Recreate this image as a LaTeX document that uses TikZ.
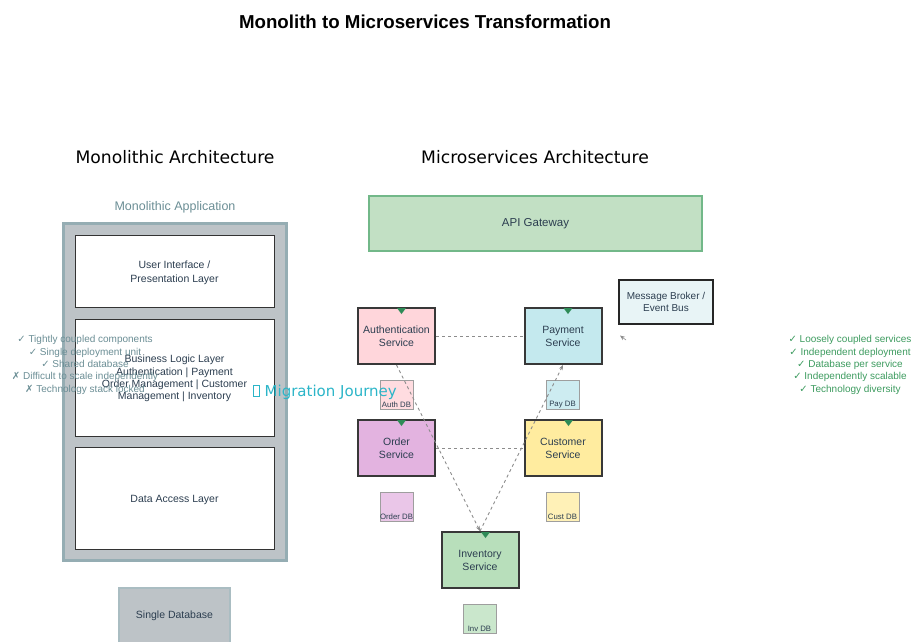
\documentclass[tikz,border=0pt]{standalone}
\usepackage{fontspec}
\setmainfont{Liberation Sans}
\newfontfamily\headfont{DejaVu Sans}
\newfontfamily\symfont{DejaVu Sans}
\usetikzlibrary{arrows.meta,calc}

\definecolor{ink}{HTML}{2C3E50}
\definecolor{monofill}{HTML}{BDC3C7}
\definecolor{monoedge}{HTML}{95ADB3}
\definecolor{monotext}{HTML}{6B8E95}
\definecolor{gwfill}{HTML}{C2E0C4}
\definecolor{gwedge}{HTML}{72B889}
\definecolor{authfill}{HTML}{FFD6DB}
\definecolor{payfill}{HTML}{C4E9EE}
\definecolor{orderfill}{HTML}{E3B3E0}
\definecolor{custfill}{HTML}{FFEC9F}
\definecolor{invfill}{HTML}{B8DFBB}
\definecolor{brokerfill}{HTML}{E8F4F6}
\definecolor{prosgreen}{HTML}{3D9B5F}
\definecolor{migcyan}{HTML}{2BB5C8}
\definecolor{tipgreen}{HTML}{2E8B57}

\newcommand\fs[1]{\fontsize{#1}{\fpeval{#1*1.2}}\selectfont}
% green arrow tip sitting just under the top edge of a service box
\newcommand\gwtip[2]{\fill[tipgreen] ($(#1.north)+(#2,1)$) -- ++(9,0) -- ++(-4.5,6) -- cycle;}

\tikzset{
  service/.style={draw=black!78, line width=2pt, minimum width=77pt, minimum height=56pt,
    inner sep=0pt, align=center, text=ink, font=\fs{10.5}\linespread{1.03}\selectfont},
  dbbox/.style={draw=black!38, line width=1pt, minimum width=33pt, minimum height=29pt, inner sep=0pt},
  dblabel/.style={anchor=south, inner sep=1.5pt, text=ink, font=\fs{7.8}},
  layer/.style={draw=black!80, fill=white, line width=0.8pt, minimum width=199pt,
    inner sep=0pt, align=center, text=ink, font=\fs{10.5}\linespread{1.08}\selectfont},
  layertext/.style={align=center, text=ink, inner sep=0pt},
  link/.style={draw=black!45, line width=0.9pt, dash pattern=on 3pt off 3pt},
  tip/.style={-{Stealth[length=5pt,width=4pt]}},
  heading/.style={font=\headfont\fs{17.2}, text=black},
  checks/.style={align=center, font=\fs{10}\linespread{1.03}\selectfont},
}

\begin{document}
\begin{tikzpicture}[x=1pt,y=-1pt]
\useasboundingbox (0,0) rectangle (911,641);

% titles
\node[font=\bfseries\fs{18.7}] (title) at (425,22) {Monolith to Microservices Transformation};
\node[heading] (monohead) at (175,157) {Monolithic Architecture};
\node[heading] (microhead) at (535,157) {Microservices Architecture};

% monolith
\node[text=monotext, font=\fs{12.5}] (monoapp) at (175,207) {Monolithic Application};
\node[draw=monoedge, fill=monofill, line width=3pt, minimum width=223pt, minimum height=337pt,
  inner sep=0pt] (mono) at (174.5,391.5) {};
\node[layer, minimum height=72pt] (ui) at (174.5,271) {};
\node[layer, minimum height=117pt] (logic) at (174.5,377.5) {};
\node[layer, minimum height=102pt] (data) at (174.5,498) {};
\node[layertext, font=\fs{10.5}\linespread{1.08}\selectfont] (uitext) at ([yshift=-1.5pt]ui.center)
  {User Interface /\\Presentation Layer};
\node[layertext, font=\fs{10.5}\linespread{0.98}\selectfont] (logictext) at ([yshift=-1pt]logic.center)
  {Business Logic Layer\\Authentication | Payment\\Order Management | Customer\\Management | Inventory};
\node[layertext, font=\fs{10.5}] (datatext) at ([yshift=-1.5pt]data.center) {Data Access Layer};
\node[draw=monoedge!80, fill=monofill, line width=1.5pt, minimum width=111pt, minimum height=56pt,
  inner sep=0pt, text=ink, font=\fs{10.5}] (singledb) at (174.5,616) {Single Database};

% drawbacks of the monolith
\node[checks, text=monotext] (cons) at (85,365)
  {{\symfont ✓} Tightly coupled components\\{\symfont ✓} Single deployment unit\\{\symfont ✓} Shared database\\
   {\symfont ✗} Difficult to scale independently\\{\symfont ✗} Technology stack locked};

% microservices
\node[draw=gwedge, fill=gwfill, line width=2pt, minimum width=333pt, minimum height=55pt,
  inner sep=0pt, text=ink, font=\fs{11.5}] (gateway) at (535.5,223.5) {API Gateway};
\node[draw=black!85, fill=brokerfill, line width=2pt, minimum width=94pt, minimum height=44pt,
  inner sep=0pt, align=center, text=ink, font=\fs{10}\linespread{1.0}\selectfont] (broker) at (666,302)
  {Message Broker /\\Event Bus};

\node[service, fill=authfill]  (auth)  at (396.5,336) {Authentication\\Service};
\node[service, fill=payfill]   (pay)   at (563,336)   {Payment\\Service};
\node[service, fill=orderfill] (order) at (396.5,448) {Order\\Service};
\node[service, fill=custfill]  (cust)  at (563,448)   {Customer\\Service};
\node[service, fill=invfill]   (inv)   at (480,560)   {Inventory\\Service};

\node[dbbox, fill=authfill!85!white]  (authdb)  at (396.5,394.5) {};
\node[dbbox, fill=payfill!85!white]   (paydb)   at (562.5,394.5) {};
\node[dbbox, fill=orderfill!75!white] (orderdb) at (396.5,506.5) {};
\node[dbbox, fill=custfill!75!white]  (custdb)  at (562.5,506.5) {};
\node[dbbox, fill=invfill!75!white]   (invdb)   at (479.5,618.5) {};
\node[dblabel] at (authdb.south)  {Auth DB};
\node[dblabel] at (paydb.south)   {Pay DB};
\node[dblabel] at (orderdb.south) {Order DB};
\node[dblabel] at (custdb.south)  {Cust DB};
\node[dblabel] at (invdb.south)   {Inv DB};

% service-to-service links
\draw[link] (auth.east) -- (pay.west);
\draw[link] (order.east) -- (cust.west);
\draw[link, tip] (auth.south) -- (inv.north);
\draw[link, tip] (inv.north) -- (pay.south);
\coordinate (busfrom) at (626,340);
\coordinate (busto) at (620,335.5);
\draw[draw=black!45, line width=0.6pt, tip] (busfrom) -- (busto);

% gateway arrow tips on the services
\gwtip{auth}{0.5}
\gwtip{pay}{0.5}
\gwtip{order}{0.5}
\gwtip{cust}{1}
\gwtip{inv}{1}

% benefits of microservices
\node[checks, text=prosgreen] (pros) at (850,365)
  {{\symfont ✓} Loosely coupled services\\{\symfont ✓} Independent deployment\\{\symfont ✓} Database per service\\
   {\symfont ✓} Independently scalable\\{\symfont ✓} Technology diversity};

% migration label, drawn on top of everything
\node[text=migcyan, font=\headfont\fs{15}] (journey) at (325,392)
  {{\setlength\fboxsep{0pt}\setlength\fboxrule{0.6pt}\fbox{\phantom{\rule{5.5pt}{10.5pt}}}}\ Migration Journey};
\end{tikzpicture}
\end{document}
